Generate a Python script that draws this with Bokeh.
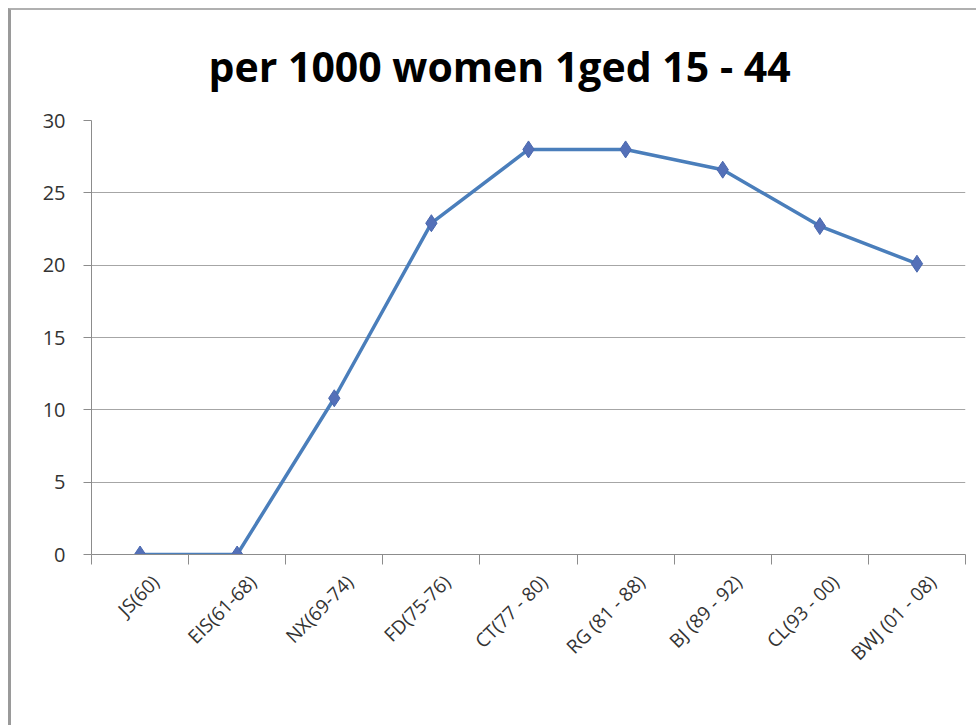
from math import pi
from bokeh.plotting import figure
from bokeh.models import FixedTicker, Range1d, ColumnDataSource
from bokeh.embed import file_html
from bokeh.resources import INLINE

categories = ["JS(60)", "EIS(61-68)", "NX(69-74)", "FD(75-76)", "CT(77 - 80)",
              "RG (81 - 88)", "BJ (89 - 92)", "CL(93 - 00)", "BWJ (01 - 08)"]
values = [0, 0, 10.8, 22.9, 28.0, 28.0, 26.6, 22.7, 20.1]
y_ticks = [0, 5, 10, 15, 20, 25, 30]
title_text = "per 1000 women 1ged 15 - 44"

xs = list(range(len(categories)))
src = ColumnDataSource(dict(x=xs, y=values))

p = figure(width=968, height=717, output_backend="svg", toolbar_location=None,
           x_range=Range1d(-0.5, len(categories) - 0.5), y_range=Range1d(0, 30),
           min_border_left=80, min_border_right=14, min_border_top=110, min_border_bottom=173)
p.styles = {"border-left": "3px solid #9a9a9a", "border-top": "2px solid #b0b0b0",
            "margin-left": "8px", "margin-top": "8px"}

p.title.text = title_text
p.title.text_font = "Open Sans"
p.title.text_font_size = "41px"
p.title.text_font_style = "bold"
p.title.text_color = "#000000"
p.title.align = "left"
p.title.vertical_align = "top"
p.title.offset = 117
p.title.standoff = 50

p.outline_line_color = None
p.xgrid.grid_line_color = None
p.ygrid.grid_line_color = "#a6a6a6"
p.ygrid.grid_line_width = 1

p.yaxis.ticker = FixedTicker(ticks=y_ticks)
p.yaxis.axis_line_color = "#8c8c8c"
p.yaxis.major_tick_line_color = "#8c8c8c"
p.yaxis.major_tick_out = 8
p.yaxis.major_tick_in = 0
p.yaxis.minor_tick_line_color = None
p.yaxis.major_label_text_font = "Open Sans"
p.yaxis.major_label_text_font_size = "20px"
p.yaxis.major_label_text_color = "#333333"
p.yaxis.major_label_standoff = 18

shift = 0.16
label_pos = [i + shift for i in xs]
bounds = [i - 0.5 for i in range(len(categories) + 1)]
p.xaxis.ticker = FixedTicker(ticks=label_pos, minor_ticks=bounds)
p.xaxis.major_label_overrides = {pos: c for pos, c in zip(label_pos, categories)}
p.xaxis.major_label_orientation = pi / 4
p.xaxis.axis_line_color = "#8c8c8c"
p.xaxis.major_tick_line_color = None
p.xaxis.minor_tick_line_color = "#8c8c8c"
p.xaxis.minor_tick_out = 10
p.xaxis.minor_tick_in = 0
p.xaxis.major_label_text_font = "Open Sans"
p.xaxis.major_label_text_font_size = "19px"
p.xaxis.major_label_text_color = "#333333"
p.xaxis.major_label_standoff = 14

p.line("x", "y", source=src, line_color="#4A7EBB", line_width=3.5)
p.scatter("x", "y", source=src, marker="diamond", size=17,
          fill_color="#5470B8", line_color="#4A68AE", line_width=1)

open("out.html", "w").write(file_html(p, INLINE))
